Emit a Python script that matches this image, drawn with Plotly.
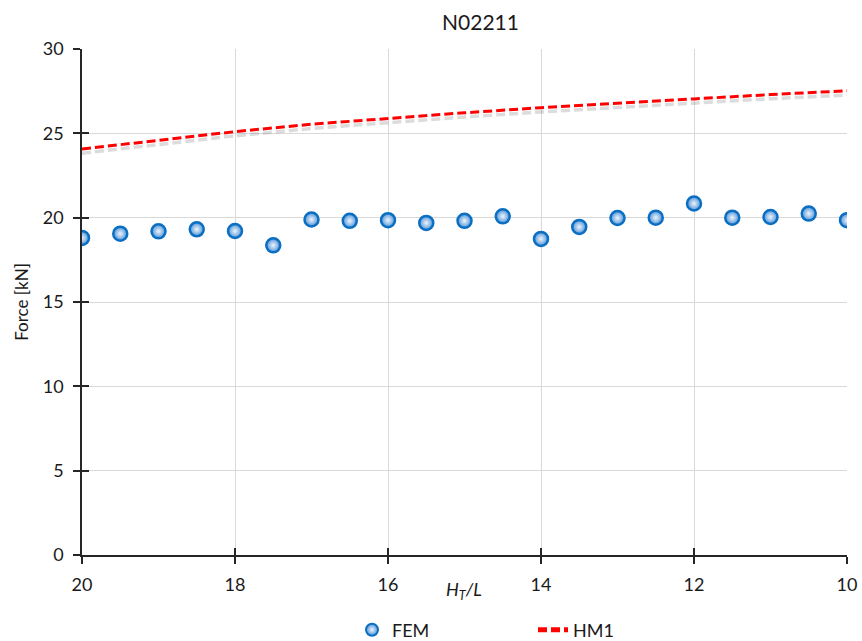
import plotly.graph_objects as go

# H_T/L ratios for the FEM runs and the FEM forces [kN]
ratio_fem = [20, 19.5, 19, 18.5, 18, 17.5, 17, 16.5, 16, 15.5, 15,
             14.5, 14, 13.5, 13, 12.5, 12, 11.5, 11, 10.5, 10]
force_fem = [18.80, 19.05, 19.19, 19.31, 19.21, 18.36, 19.89, 19.81, 19.85, 19.69, 19.81,
             20.08, 18.74, 19.45, 19.98, 20.00, 20.84, 20.00, 20.04, 20.24, 19.85]

# HM1 analytical curve
ratio_hm1 = [20, 19, 18, 17, 16, 15, 14, 13, 12, 11, 10]
force_hm1 = [24.07, 24.58, 25.10, 25.54, 25.89, 26.22, 26.52, 26.80, 27.04, 27.30, 27.52]

x_ticks = [20, 18, 16, 14, 12, 10]
y_ticks = [0, 5, 10, 15, 20, 25, 30]
x_range = [20, 10]
y_range = [0, 30]

FONT = "Lato"
W, H = 862, 641
ML, MR, MT, MB = 82, 15, 49, 86
PW, PH = W - ML - MR, H - MT - MB


def px_x(px):
    """Pixel column -> paper x."""
    return (px - ML) / PW


def px_y(py):
    """Pixel row -> paper y."""
    return (H - MB - py) / PH


fig = go.Figure()

# soft drop shadow under the HM1 curve
fig.add_trace(go.Scatter(
    x=ratio_hm1, y=[v - 0.25 for v in force_hm1], mode="lines",
    line=dict(color="rgba(130,130,130,0.28)", width=3.5, dash="9px,4px"),
    showlegend=False, hoverinfo="skip"))

fig.add_trace(go.Scatter(
    x=ratio_fem, y=force_fem, mode="markers", name="FEM",
    marker=dict(size=14, color="#4f93d8",
                gradient=dict(type="radial", color="#eef5fc"),
                line=dict(color="#0a6fc2", width=2.5))))

fig.add_trace(go.Scatter(
    x=ratio_hm1, y=force_hm1, mode="lines", name="HM1",
    line=dict(color="#ff0000", width=3, dash="9px,4px")))

# invisible trace carrying the overlay axes (inner half of the crossing ticks)
fig.add_trace(go.Scatter(x=ratio_hm1, y=force_hm1, xaxis="x2", yaxis="y2",
                         mode="markers", marker=dict(size=1, opacity=0),
                         showlegend=False, hoverinfo="skip"))

axis_font = dict(family=FONT, size=18, color="#1a1a1a")
tick_style = dict(ticklen=7, tickwidth=1.5, tickcolor="#262626")

fig.update_layout(
    width=W, height=H,
    margin=dict(l=ML, r=MR, t=MT, b=MB, autoexpand=False),
    paper_bgcolor="white", plot_bgcolor="white",
    font=dict(family=FONT, color="#1a1a1a"),
    showlegend=True,
    legend=dict(orientation="h", x=px_x(352), y=px_y(630), xanchor="left", yanchor="middle",
                font=dict(family=FONT, size=18, color="#1a1a1a"),
                entrywidth=136, entrywidthmode="pixels",
                itemsizing="constant", bgcolor="rgba(0,0,0,0)"),
    xaxis=dict(range=x_range, tickvals=x_ticks, ticktext=[str(v) for v in x_ticks],
               showgrid=True, gridcolor="#d9d9d9", gridwidth=1,
               showline=True, linecolor="#262626", linewidth=1.5,
               ticks="outside", **tick_style,
               tickfont=axis_font, ticklabelstandoff=6, zeroline=False, automargin=False),
    yaxis=dict(range=y_range, tickvals=y_ticks,
               showgrid=True, gridcolor="#d9d9d9", gridwidth=1,
               showline=True, linecolor="#262626", linewidth=1.5,
               ticks="outside", **tick_style,
               tickfont=axis_font, ticklabelstandoff=6, zeroline=False, automargin=False,
               title=dict(text="Force [kN]", font=dict(family=FONT, size=17, color="#1a1a1a"),
                          standoff=10)),
    xaxis2=dict(overlaying="x", anchor="y", side="bottom", range=x_range, tickvals=x_ticks,
                showticklabels=False, showgrid=False, showline=False, zeroline=False,
                ticks="inside", **tick_style),
    yaxis2=dict(overlaying="y", anchor="x", side="left", range=y_range, tickvals=y_ticks,
                showticklabels=False, showgrid=False, showline=False, zeroline=False,
                ticks="inside", **tick_style),
    annotations=[
        dict(text="N02211", xref="paper", yref="paper",
             x=px_x(480), y=px_y(21),
             xanchor="center", yanchor="middle", showarrow=False,
             font=dict(family=FONT, size=21, color="#1a1a1a")),
        dict(text="<i>H<sub>T</sub>/L</i>", xref="paper", yref="paper",
             x=px_x(464), y=px_y(590),
             xanchor="center", yanchor="middle", showarrow=False,
             font=dict(family=FONT, size=18, color="#1a1a1a")),
    ],
)

fig.write_html("out.html")
